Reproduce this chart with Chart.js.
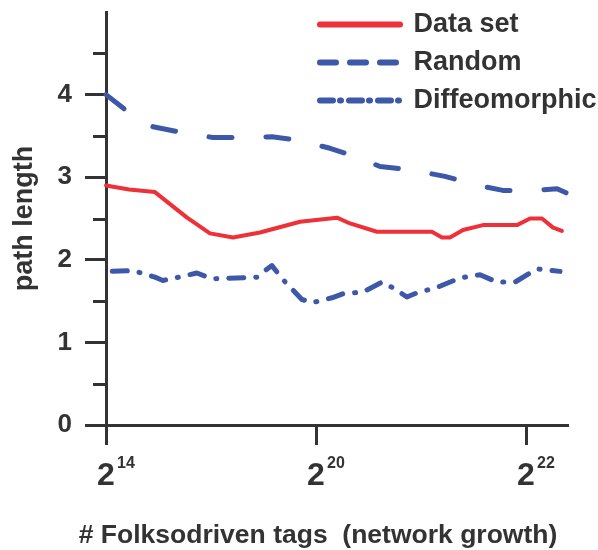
<!DOCTYPE html>
<html>
<head>
<meta charset="utf-8">
<script src="https://cdn.jsdelivr.net/npm/chart.js@4"></script>
<style>
  html, body { margin: 0; padding: 0; background: #ffffff; }
  #wrap { width: 598px; height: 550px; }
</style>
</head>
<body>
<div id="wrap"><canvas id="c" width="598" height="550"></canvas></div>
<script>
// ---- data (x positions on the growth axis: 0 = 2^14, 1 = 2^20, 2 = 2^22) ----
const seriesNames = ['Data set', 'Random', 'Diffeomorphic'];
const xTickBase = '2';
const xTickExponents = ['14', '20', '22'];
const yTickLabels = ['0', '1', '2', '3', '4'];

const dataSetX = [0, 0.11, 0.233, 0.386, 0.495, 0.605, 0.733, 0.924, 1.10, 1.162, 1.29, 1.552, 1.60, 1.638, 1.70, 1.795, 1.957, 2.019, 2.076, 2.129, 2.171];
const dataSetY = [2.90, 2.85, 2.82, 2.51, 2.32, 2.27, 2.33, 2.46, 2.51, 2.44, 2.34, 2.34, 2.27, 2.27, 2.36, 2.42, 2.42, 2.50, 2.50, 2.39, 2.35];

const randomX = [0, 0.105, 0.224, 0.343, 0.51, 0.648, 0.79, 0.91, 1.067, 1.176, 1.305, 1.448, 1.614, 1.757, 1.89, 2.029, 2.148, 2.243];
const randomY = [4.00, 3.79, 3.61, 3.55, 3.48, 3.48, 3.49, 3.45, 3.35, 3.26, 3.13, 3.09, 3.01, 2.91, 2.84, 2.84, 2.86, 2.75];

const diffeoX = [0.03, 0.129, 0.233, 0.271, 0.329, 0.433, 0.505, 0.719, 0.748, 0.79, 0.843, 0.933, 0.981, 1.076, 1.129, 1.224, 1.314, 1.367, 1.433, 1.481, 1.581, 1.686, 1.781, 1.862, 1.948, 2.052, 2.162];
const diffeoY = [1.86, 1.87, 1.79, 1.75, 1.78, 1.84, 1.77, 1.79, 1.85, 1.93, 1.76, 1.52, 1.48, 1.54, 1.59, 1.61, 1.73, 1.66, 1.55, 1.60, 1.67, 1.78, 1.82, 1.73, 1.73, 1.89, 1.86];

const xTitle = '# Folksodriven tags  (network growth)';
const yTitle = 'path length';

// ---- styling ----
const FONT = "'Liberation Sans', Arial, Helvetica, sans-serif";
const TEXT = '#333333';
const AXIS = '#333333';
const RED = '#ee3039';
const BLUE = '#3d58a8';

const pts = (xs, ys) => xs.map((x, i) => ({ x: x, y: ys[i] }));

const legendDash = [[], [16, 14], [13, 7, 1, 8]];

const extrasPlugin = {
  id: 'extras',
  afterLayout(chart) {
    const lg = chart.legend;
    if (lg) {
      const w = lg.width, h = lg.height;
      lg.left = 309; lg.top = 0;
      lg.right = lg.left + w; lg.bottom = lg.top + h;
    }
  },
  afterDraw(chart) {
    const ctx = chart.ctx;
    const xs = chart.scales.x, ys = chart.scales.y;
    const area = chart.chartArea;
    ctx.save();
    // minor y ticks
    ctx.strokeStyle = AXIS;
    ctx.lineWidth = 3;
    [0.5, 1.5, 2.5, 3.5, 4.5].forEach(v => {
      const py = Math.round(ys.getPixelForValue(v)) + 0.5;
      ctx.beginPath();
      ctx.moveTo(area.left - 13, py);
      ctx.lineTo(area.left, py);
      ctx.stroke();
    });
    // exponents of x tick labels
    ctx.fillStyle = TEXT;
    ctx.font = 'bold 16px ' + FONT;
    ctx.textAlign = 'left';
    ctx.textBaseline = 'alphabetic';
    xTickExponents.forEach((e, i) => {
      const px = xs.getPixelForValue(i);
      ctx.fillText(e, px + 11, 468);
    });
    // x-axis title
    ctx.font = 'bold 26.5px ' + FONT;
    ctx.textAlign = 'center';
    ctx.fillText(xTitle, 318, 543);
    ctx.restore();
  }
};

new Chart(document.getElementById('c'), {
  type: 'line',
  data: {
    datasets: [
      { label: seriesNames[0], data: pts(dataSetX, dataSetY), borderColor: RED, backgroundColor: RED,
        borderWidth: 4, borderCapStyle: 'round', borderJoinStyle: 'round', pointRadius: 0, tension: 0, clip: false },
      { label: seriesNames[1], data: pts(randomX, randomY), borderColor: BLUE, backgroundColor: BLUE,
        borderWidth: 5, borderDash: [23, 34], borderCapStyle: 'round', borderJoinStyle: 'round', pointRadius: 0, tension: 0, clip: false },
      { label: seriesNames[2], data: pts(diffeoX, diffeoY), borderColor: BLUE, backgroundColor: BLUE,
        borderWidth: 5, borderDash: [15, 12, 1, 12], borderCapStyle: 'round', borderJoinStyle: 'round', pointRadius: 0, tension: 0, clip: false }
    ]
  },
  options: {
    responsive: false,
    animation: false,
    devicePixelRatio: 1,
    layout: { padding: { left: 0, top: 12, right: 30, bottom: 0 } },
    plugins: {
      tooltip: { enabled: false },
      legend: {
        position: 'chartArea',
        align: 'start',
        labels: {
          usePointStyle: true,
          pointStyleWidth: 80,
          boxHeight: 6,
          padding: 11,
          color: TEXT,
          font: { family: FONT, size: 27, weight: 'bold' },
          generateLabels(chart) {
            const items = Chart.defaults.plugins.legend.labels.generateLabels(chart);
            items.forEach((it, i) => {
              it.pointStyle = 'line';
              it.lineWidth = 6;
              it.lineDash = legendDash[i];
              it.lineCap = 'round';
            });
            return items;
          }
        }
      }
    },
    scales: {
      x: {
        type: 'linear',
        min: 0,
        max: 2.2,
        afterFit(s) { s.height = 125; s.paddingLeft = 0; s.paddingRight = 0; },
        border: { display: true, color: AXIS, width: 3 },
        grid: { display: true, drawOnChartArea: false, drawTicks: true, tickLength: 20, tickWidth: 3, tickColor: AXIS },
        ticks: {
          stepSize: 1,
          includeBounds: false,
          autoSkip: false,
          maxRotation: 0,
          padding: 12,
          color: TEXT,
          font: { family: FONT, size: 32, weight: 'bold' },
          callback: (v) => Number.isInteger(v) ? xTickBase : ''
        },
        title: { display: false, text: xTitle }
      },
      y: {
        type: 'linear',
        min: 0,
        max: 5,
        afterFit(s) { s.width = 106; s.paddingTop = 0; s.paddingBottom = 0; },
        border: { display: true, color: AXIS, width: 3 },
        grid: {
          display: true, drawOnChartArea: false, drawTicks: true, tickLength: 21, tickWidth: 3,
          tickColor: (c) => (Number.isInteger(c.tick.value) && c.tick.value < 5) ? AXIS : 'rgba(0,0,0,0)'
        },
        ticks: {
          stepSize: 0.5,
          padding: 13,
          color: TEXT,
          font: { family: FONT, size: 26, weight: 'bold' },
          callback: (v) => (Number.isInteger(v) && v < 5) ? yTickLabels[v] : ''
        },
        title: {
          display: true,
          text: yTitle,
          color: TEXT,
          font: { family: FONT, size: 27, weight: 'bold' },
          padding: { top: 8, bottom: 0 }
        }
      }
    }
  },
  plugins: [extrasPlugin]
});
</script>
</body>
</html>
